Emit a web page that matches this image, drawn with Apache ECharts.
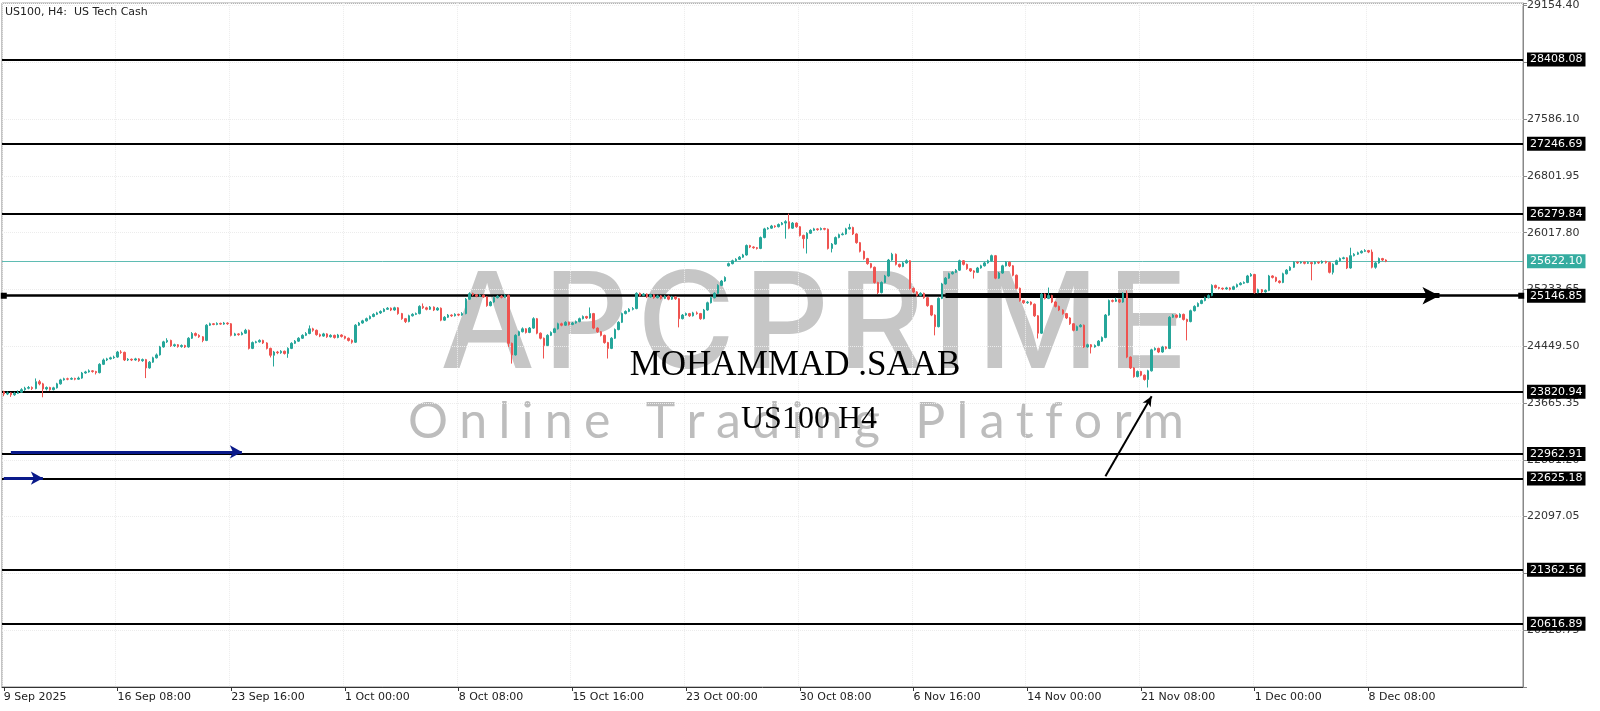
<!DOCTYPE html>
<html><head><meta charset="utf-8">
<script src="https://cdn.jsdelivr.net/npm/echarts@6/dist/echarts.min.js"></script>
<style>html,body{margin:0;padding:0;background:#fff}#c{width:1600px;height:711px}</style>
</head><body><div id="c"></div>
<script>
// ---------- data ----------
const tickLabels = ['9 Sep 2025','16 Sep 08:00','23 Sep 16:00','1 Oct 00:00','8 Oct 08:00','15 Oct 16:00','23 Oct 00:00','30 Oct 08:00','6 Nov 16:00','14 Nov 00:00','21 Nov 08:00','1 Dec 00:00','8 Dec 08:00'];
const barsPerLabel = 32;
const totalSlots = 428;
const levels = [28408.08, 27246.69, 26279.84, 25146.85, 23820.94, 22962.91, 22625.18, 21362.56, 20616.89];
const bidPrice = 25622.10;
const yMin = 19744.60, yMax = 29187, yStep = 784.15;
// [open, close, low, high]
const candles = [
[23820,23790,23760,23835],[23790,23805,23775,23825],[23805,23780,23750,23815],[23780,23800,23765,23820],[23800,23815,23790,23840],
[23815,23850,23805,23870],[23850,23870,23835,23890],[23870,23880,23855,23900],[23880,23865,23845,23895],[23865,23960,23855,24005],
[23960,23930,23910,23985],[23930,23860,23745,23945],[23860,23880,23840,23895],[23880,23850,23835,23890],[23850,23875,23840,23890],
[23875,23930,23865,23945],[23930,23985,23920,24000],[23985,24000,23975,24015],[24000,23995,23980,24015],[23995,24005,23985,24020],
[24005,23995,23980,24015],[23995,24010,23985,24030],[24010,24080,24000,24095],[24080,24095,24070,24110],[24095,24110,24085,24130],
[24110,24100,24085,24120],[24100,24085,24060,24110],[24085,24200,24075,24215],[24200,24260,24190,24280],[24260,24275,24245,24290],
[24275,24290,24265,24305],[24290,24300,24275,24320],[24300,24370,24290,24385],[24370,24365,24345,24395],[24365,24260,24245,24375],
[24260,24270,24245,24285],[24270,24260,24245,24280],[24260,24275,24250,24290],[24275,24250,24235,24285],[24250,24265,24235,24280],
[24265,24150,24010,24275],[24150,24230,24140,24245],[24230,24290,24220,24305],[24290,24330,24280,24350],[24330,24440,24320,24455],
[24440,24510,24430,24525],[24510,24530,24495,24560],[24530,24455,24440,24540],[24455,24470,24440,24485],[24470,24445,24430,24480],
[24445,24460,24430,24475],[24460,24440,24425,24470],[24440,24560,24430,24575],[24560,24625,24550,24645],[24625,24600,24585,24640],
[24600,24580,24565,24615],[24580,24530,24505,24590],[24530,24740,24520,24755],[24740,24760,24730,24775],[24760,24750,24740,24770],
[24750,24765,24740,24780],[24765,24755,24745,24775],[24755,24770,24745,24785],[24770,24760,24745,24780],[24760,24600,24585,24770],
[24600,24620,24590,24635],[24620,24610,24595,24630],[24610,24630,24600,24650],[24630,24670,24620,24690],[24670,24420,24405,24680],
[24420,24500,24410,24515],[24500,24510,24490,24525],[24510,24530,24500,24545],[24530,24495,24480,24540],[24495,24420,24405,24505],
[24420,24325,24295,24430],[24325,24370,24170,24385],[24370,24360,24340,24385],[24360,24380,24345,24395],[24380,24350,24335,24390],
[24350,24420,24290,24435],[24420,24490,24410,24505],[24490,24520,24480,24535],[24520,24560,24510,24575],[24560,24600,24550,24615],
[24600,24625,24590,24645],[24625,24690,24615,24737],[24690,24670,24650,24705],[24670,24610,24595,24680],[24610,24590,24575,24625],
[24590,24620,24580,24635],[24620,24580,24565,24630],[24580,24600,24570,24615],[24600,24570,24555,24610],[24570,24605,24560,24620],
[24605,24585,24570,24615],[24585,24560,24545,24595],[24560,24530,24515,24570],[24530,24505,24485,24545],[24505,24740,24495,24755],
[24740,24770,24730,24785],[24770,24800,24760,24815],[24800,24830,24790,24845],[24830,24860,24820,24875],[24860,24890,24850,24905],
[24890,24910,24880,24925],[24910,24930,24895,24945],[24930,24960,24920,24975],[24960,24975,24950,24990],[24975,24950,24935,24985],
[24950,24980,24940,24995],[24980,24900,24885,24990],[24900,24830,24815,24910],[24830,24790,24770,24840],[24790,24870,24780,24885],
[24870,24890,24860,24905],[24890,24900,24880,24915],[24900,25000,24890,25015],[25000,24980,24965,25040],[24980,24960,24945,24995],
[24960,24990,24950,25005],[24990,24950,24935,25000],[24950,24975,24940,24990],[24975,24810,24795,24985],[24810,24850,24800,24865],
[24850,24880,24840,24895],[24880,24870,24855,24890],[24870,24890,24860,24905],[24890,24880,24865,24900],[24880,24900,24870,24920],
[24900,25100,24890,25115],[25100,25175,25090,25195],[25175,25160,25145,25190],[25160,25140,25125,25170],[25140,25155,25130,25170],
[25155,25130,25115,25165],[25130,25010,24995,25140],[25010,25060,25000,25075],[25060,25120,25050,25135],[25120,25140,25110,25155],
[25140,25125,25110,25155],[25125,25150,25115,25170],[25150,24490,24440,25165],[24490,24330,24210,24500],[24330,24600,24320,24615],
[24600,24650,24590,24665],[24650,24690,24640,24710],[24690,24640,24625,24700],[24640,24700,24630,24715],[24700,24830,24690,24850],
[24830,24630,24615,24840],[24630,24560,24545,24640],[24560,24460,24280,24570],[24460,24600,24450,24615],[24600,24640,24590,24655],
[24640,24690,24630,24705],[24690,24760,24680,24775],[24760,24740,24725,24775],[24740,24780,24730,24795],[24780,24750,24735,24790],
[24750,24770,24740,24785],[24770,24790,24760,24805],[24790,24830,24780,24845],[24830,24860,24820,24875],[24860,24840,24825,24870],
[24840,24900,24830,24985],[24900,24700,24685,24910],[24700,24650,24635,24710],[24650,24600,24585,24660],[24600,24500,24485,24610],
[24500,24420,24280,24510],[24420,24560,24410,24575],[24560,24680,24550,24695],[24680,24780,24670,24795],[24780,24900,24770,24915],
[24900,24930,24890,24945],[24930,24960,24920,24975],[24960,24970,24945,24990],[24970,25180,24960,25195],[25180,25150,25135,25190],
[25150,25170,25140,25185],[25170,25130,25115,25180],[25130,25160,25120,25175],[25160,25120,25105,25170],[25120,25145,25110,25160],
[25145,25110,25095,25155],[25110,25140,25100,25155],[25140,25100,25085,25150],[25100,25130,25090,25145],[25130,25105,25090,25140],
[25105,24830,24710,25115],[24830,24880,24820,24895],[24880,24900,24870,24915],[24900,24870,24855,24910],[24870,24910,24860,24925],
[24910,24900,24885,24930],[24900,24830,24815,24910],[24830,24950,24820,24965],[24950,25050,24940,25065],[25050,25120,25040,25135],
[25120,25180,25110,25195],[25180,25290,25170,25305],[25290,25350,25280,25365],[25350,25400,25340,25415],[25560,25590,25550,25605],
[25590,25630,25580,25645],[25630,25650,25620,25665],[25650,25680,25640,25695],[25680,25710,25670,25725],[25710,25840,25700,25855],
[25840,25820,25805,25850],[25820,25810,25795,25830],[25810,25800,25785,25820],[25800,25950,25790,25965],[25950,26070,25940,26085],
[26070,26080,26060,26095],[26080,26110,26070,26125],[26110,26100,26085,26120],[26100,26130,26090,26145],[26130,26150,26120,26165],
[26150,26170,25935,26190],[26170,26080,26065,26280],[26080,26150,26070,26165],[26150,26100,26085,26160],[26100,25980,25965,26110],
[25980,25935,25800,25990],[25935,26010,25730,26025],[26010,26050,26000,26065],[26050,26070,26040,26085],[26070,26060,26045,26080],
[26060,26075,26050,26090],[26075,26065,26050,26085],[26065,25800,25785,26075],[25800,25860,25745,25875],[25860,25950,25850,25965],
[25950,25990,25940,26005],[25990,26000,25980,26020],[26000,26070,25990,26085],[26070,26090,26060,26140],[26090,26000,25985,26100],
[26000,25880,25865,26010],[25880,25760,25745,25890],[25760,25660,25645,25770],[25660,25590,25575,25670],[25590,25540,25525,25600],
[25540,25330,25315,25550],[25330,25190,25170,25340],[25190,25330,25180,25345],[25330,25420,25320,25435],[25420,25640,25410,25655],
[25640,25720,25630,25740],[25720,25580,25565,25730],[25580,25550,25535,25590],[25550,25600,25540,25615],[25600,25630,25590,25650],
[25630,25250,25235,25640],[25250,25200,25185,25260],[25200,25150,25135,25210],[25150,25180,25140,25195],[25180,25120,25105,25190],
[25120,25010,24995,25130],[25010,24880,24865,25020],[24880,24720,24600,24890],[24720,25110,24710,25125],[25110,25310,25100,25325],
[25310,25390,25300,25405],[25390,25450,25380,25465],[25450,25470,25440,25485],[25470,25500,25460,25515],[25500,25630,25490,25645],
[25630,25580,25565,25640],[25580,25520,25505,25590],[25520,25490,25475,25530],[25490,25470,25384,25500],[25470,25530,25460,25545],
[25530,25560,25520,25575],[25560,25600,25550,25615],[25600,25630,25590,25645],[25630,25700,25620,25715],[25700,25390,25375,25710],
[25390,25460,25380,25475],[25460,25560,25450,25575],[25560,25610,25550,25625],[25610,25560,25545,25620],[25560,25430,25415,25570],
[25430,25250,25235,25440],[25250,25080,25065,25260],[25080,25050,25035,25090],[25050,25060,25035,25075],[25060,25030,25015,25070],
[25030,24870,24855,25040],[24870,24630,24557,24880],[24630,25170,24620,25185],[25170,25110,25095,25180],[25110,25150,25100,25260],
[25150,25060,25045,25160],[25060,25000,24985,25070],[25000,24950,24935,25010],[24950,24900,24885,24960],[24900,24840,24825,24910],
[24840,24760,24745,24850],[24760,24670,24655,24770],[24670,24720,24660,24735],[24720,24740,24710,24755],[24740,24440,24425,24750],
[24440,24470,24430,24485],[24470,24440,24350,24480],[24440,24460,24430,24475],[24460,24520,24450,24535],[24520,24570,24510,24585],
[24570,24880,24560,24895],[24880,25080,24870,25095],[25080,25070,25055,25095],[25070,25090,25060,25120],[25090,25060,25045,25100],
[25060,25180,25050,25195],[25180,24300,24285,25220],[24300,24150,24135,24310],[24150,24030,24015,24160],[24030,24100,24020,24115],
[24100,24050,24035,24110],[24050,23990,23975,24060],[23990,24110,23880,24125],[24110,24400,24100,24415],[24400,24420,24390,24435],
[24420,24370,24355,24430],[24370,24440,24360,24455],[24440,24420,24405,24450],[24420,24850,24410,24865],[24850,24880,24840,24895],
[24880,24850,24835,24890],[24850,24890,24840,24905],[24890,24820,24805,24900],[24820,24790,24530,24830],[24790,24940,24780,24955],
[24940,25000,24930,25015],[25000,25040,24990,25055],[25040,25080,25030,25095],[25080,25120,25070,25135],[25120,25150,25110,25165],
[25150,25290,25140,25305],[25290,25260,25245,25300],[25260,25250,25235,25270],[25250,25240,25225,25260],[25240,25255,25230,25270],
[25255,25235,25220,25265],[25235,25270,25225,25285],[25270,25300,25260,25315],[25300,25320,25290,25335],[25320,25330,25310,25345],
[25330,25420,25320,25435],[25420,25440,25410,25460],[25440,25190,25175,25450],[25190,25230,25180,25245],[25230,25200,25185,25240],
[25200,25220,25190,25235],[25220,25420,25210,25435],[25420,25400,25385,25430],[25400,25350,25335,25410],[25350,25330,25315,25360],
[25330,25450,25320,25465],[25450,25500,25440,25515],[25500,25540,25490,25555],[25540,25610,25530,25625],[25610,25600,25585,25620],
[25600,25610,25590,25625],[25610,25595,25580,25620],[25595,25605,25585,25620],[25605,25590,25360,25615],[25590,25610,25580,25625],
[25610,25600,25585,25620],[25600,25620,25590,25635],[25620,25605,25590,25630],[25605,25470,25455,25615],[25470,25580,25440,25595],
[25580,25630,25570,25645],[25630,25660,25620,25675],[25660,25670,25650,25685],[25670,25530,25515,25680],[25530,25700,25520,25810],
[25700,25720,25690,25735],[25720,25740,25710,25755],[25740,25760,25730,25775],[25760,25770,25750,25790],[25770,25750,25735,25780],
[25750,25540,25525,25785],[25540,25600,25520,25615],[25600,25660,25590,25675],[25660,25640,25625,25670],[25640,25622.1,25610,25650]
];
// annotations: [startIndex, endIndex, price]
const blueArrows = [[2, 67, 22990], [0, 11, 22628]];
const thickArrow = [265, 404, 25146.85];
const diagArrow = [[310, 22656], [323, 23758]];
const titleText = 'US100, H4:  US Tech Cash';
const authorText = 'MOHAMMAD .SAAB';
const subText = 'US100 H4';

// ---------- chart ----------
const chart = echarts.init(document.getElementById('c'), null, {renderer: 'canvas'});
const slots = Array.from({length: totalSlots}, (_, i) => String(i));
const isTick = i => i % barsPerLabel === 0 && i / barsPerLabel < tickLabels.length;
const FONT = 'DejaVu Sans';

function spacedText(str, x0, x1, yMid, font, fill, z) {
  const ctx = document.createElement('canvas').getContext('2d');
  ctx.font = font;
  const chars = [...str];
  const widths = chars.map(ch => ctx.measureText(ch).width);
  const total = widths.reduce((a, b) => a + b, 0);
  const gap = (x1 - x0 - total) / (chars.length - 1);
  let x = x0;
  return chars.map((ch, i) => {
    const el = {type: 'text', x: x, y: yMid, z: z, silent: true,
      style: {text: ch, font: font, fill: fill, align: 'left', verticalAlign: 'middle'}};
    x += widths[i] + gap;
    return el;
  });
}

const levelLines = levels.map(v => ({
  yAxis: v,
  lineStyle: {color: '#000', width: v === 25146.85 ? 2.5 : 2, type: 'solid'},
  label: {show: true, position: 'end', distance: 4, formatter: () => v.toFixed(2),
    backgroundColor: '#000', color: '#fff', padding: [2, 3, 1, 3], fontFamily: FONT, fontSize: 11}
}));
levelLines.push({
  yAxis: bidPrice,
  lineStyle: {color: '#5fbcb3', width: 1, type: 'solid'},
  label: {show: true, position: 'end', distance: 4, formatter: () => bidPrice.toFixed(2),
    backgroundColor: '#35aca0', color: '#fff', padding: [2, 3, 1, 3], fontFamily: FONT, fontSize: 11}
});

const arrowLines = [];
blueArrows.forEach(a => arrowLines.push([
  {coord: [a[0], a[2]], symbol: 'none', lineStyle: {color: '#0a1a8a', width: 3, type: 'solid'}},
  {coord: [a[1], a[2]], symbol: 'arrow', symbolSize: [10, 12]}
]));
arrowLines.push([
  {coord: [thickArrow[0], thickArrow[2]], symbol: 'none', lineStyle: {color: '#000', width: 5, type: 'solid'}},
  {coord: [thickArrow[1], thickArrow[2]], symbol: 'arrow', symbolSize: [13, 17]}
]);
arrowLines.push([
  {coord: diagArrow[0], symbol: 'none', lineStyle: {color: '#000', width: 2, type: 'solid'}},
  {coord: diagArrow[1], symbol: 'arrow', symbolSize: [7, 10]}
]);

const option = {
  animation: false,
  backgroundColor: '#fff',
  grid: {left: 2, right: 77, top: 2, bottom: 24, show: true, borderColor: '#888', borderWidth: 1},
  xAxis: {
    type: 'category', data: slots, boundaryGap: true,
    axisLine: {show: true, lineStyle: {color: '#333', width: 1}},
    axisTick: {show: true, alignWithLabel: true, interval: (i) => isTick(i), length: 4, lineStyle: {color: '#333'}},
    axisLabel: {interval: (i) => isTick(i), formatter: (v, i) => isTick(i) ? tickLabels[i / barsPerLabel] : '',
      align: 'left', fontFamily: FONT, fontSize: 11, color: '#222', margin: 5},
    splitLine: {show: true, interval: (i) => isTick(i), lineStyle: {color: '#ececec', type: 'dotted'}}
  },
  yAxis: {
    type: 'value', position: 'right', min: yMin, max: yMax, interval: yStep,
    axisLine: {show: true, lineStyle: {color: '#888'}},
    axisTick: {show: true, length: 4, lineStyle: {color: '#888'}},
    axisLabel: {
      formatter: v => {
        const k = (v - yMin) / yStep;
        return (Math.abs(k - Math.round(k)) < 1e-6 && Math.round(k) >= 1) ? v.toFixed(2) : '';
      },
      fontFamily: FONT, fontSize: 11, color: '#333', margin: 4
    },
    splitLine: {show: true, lineStyle: {color: '#ececec', type: 'dotted'}}
  },
  graphic: [
    {type: 'text', x: 5, y: 12, z: 50, silent: true,
      style: {text: titleText, font: '11px "DejaVu Sans"', fill: '#222', verticalAlign: 'middle'}},
    ...spacedText('APCPRIME', 440, 1188, 328, '500 134px Inter', '#c6c6c6', 0),
    ...spacedText('Online Trading Platform', 408, 1184, 422, '400 50px Lato', '#bdbdbd', 0),
    {type: 'text', x: 795, y: 366, z: 100, silent: true,
      style: {text: authorText, font: '35px "Liberation Serif"', fill: '#000', align: 'center', verticalAlign: 'middle'}},
    {type: 'text', x: 809, y: 420, z: 100, silent: true,
      style: {text: subText, font: '32px "Liberation Serif"', fill: '#000', align: 'center', verticalAlign: 'middle'}}
  ],
  series: [{
    type: 'candlestick', data: candles, barWidth: 2, z: 5,
    itemStyle: {color: '#26a69a', color0: '#ef5350', borderColor: '#26a69a', borderColor0: '#ef5350', borderWidth: 1},
    markLine: {silent: true, symbol: ['none', 'none'], animation: false, data: levelLines.concat(arrowLines)},
    markPoint: {silent: true, symbol: 'rect', symbolSize: 6, itemStyle: {color: '#000'}, label: {show: false},
      data: [{coord: [0, levels[3]]}, {coord: [totalSlots - 1, levels[3]]}]}
  }]
};
chart.setOption(option);
</script></body></html>
